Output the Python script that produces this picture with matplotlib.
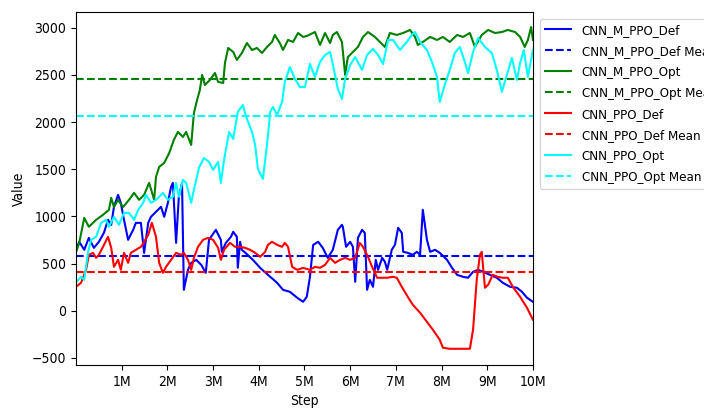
import matplotlib
matplotlib.use('Agg')
from matplotlib import pyplot as plt

# the reference text looks narrow, so ask for the condensed face if it exists
plt.rcParams['font.stretch'] = 'condensed'

# steps are in millions
m_ppo_def_steps = [0.00, 0.07, 0.18, 0.28, 0.39, 0.50, 0.61, 0.70, 0.77, 0.83, 0.92, 0.98, 1.05, 1.14,
                   1.25, 1.31, 1.42, 1.49, 1.58, 1.64, 1.75, 1.86, 1.93, 2.01, 2.08, 2.12, 2.19, 2.25,
                   2.32, 2.36, 2.45, 2.52, 2.63, 2.74, 2.84, 2.91, 3.06, 3.17, 3.19, 3.28, 3.39, 3.44,
                   3.52, 3.54, 3.59, 3.63, 3.74, 3.87, 4.03, 4.20, 4.40, 4.53, 4.68, 4.84, 4.97, 5.05,
                   5.12, 5.19, 5.30, 5.40, 5.51, 5.62, 5.73, 5.82, 5.84, 5.91, 6.00, 6.06, 6.11, 6.17,
                   6.26, 6.32, 6.37, 6.43, 6.50, 6.56, 6.61, 6.70, 6.76, 6.81, 6.91, 6.98, 7.05, 7.13,
                   7.16, 7.26, 7.37, 7.46, 7.53, 7.59, 7.68, 7.75, 7.86, 7.96, 8.12, 8.23, 8.34, 8.47,
                   8.58, 8.69, 8.80, 8.91, 9.06, 9.21, 9.34, 9.50, 9.65, 9.76, 9.87, 10.00]
m_ppo_def_vals = [646, 731, 646, 773, 667, 731, 826, 964, 911, 1102, 1229, 1144, 964, 752,
                  858, 932, 932, 614, 932, 996, 1049, 1102, 996, 1144, 1314, 1356, 720, 1208,
                  1356, 222, 434, 508, 540, 487, 402, 752, 858, 752, 625, 720, 784, 837,
                  784, 455, 731, 646, 600, 540, 455, 381, 297, 222, 201, 138, 95, 148,
                  360, 699, 731, 667, 561, 646, 858, 911, 890, 678, 731, 678, 307, 773,
                  858, 826, 222, 328, 254, 540, 434, 561, 519, 434, 646, 699, 879, 826,
                  625, 614, 593, 625, 593, 1070, 752, 625, 646, 614, 540, 455, 381, 360,
                  350, 413, 434, 413, 381, 350, 297, 254, 244, 201, 138, 95]

m_ppo_opt_steps = [0.00, 0.07, 0.18, 0.28, 0.44, 0.59, 0.72, 0.77, 0.83, 0.92, 1.03, 1.16, 1.27, 1.38,
                   1.49, 1.60, 1.71, 1.75, 1.82, 1.93, 2.04, 2.14, 2.23, 2.34, 2.41, 2.52, 2.58, 2.65,
                   2.71, 2.76, 2.82, 2.93, 3.04, 3.11, 3.22, 3.26, 3.33, 3.44, 3.52, 3.63, 3.74, 3.85,
                   3.96, 4.07, 4.18, 4.29, 4.35, 4.46, 4.53, 4.64, 4.75, 4.86, 4.97, 5.05, 5.23, 5.34,
                   5.45, 5.56, 5.62, 5.71, 5.82, 5.89, 5.95, 6.06, 6.17, 6.28, 6.39, 6.54, 6.65, 6.76,
                   6.87, 7.02, 7.16, 7.31, 7.42, 7.48, 7.59, 7.75, 7.90, 8.03, 8.18, 8.34, 8.47, 8.62,
                   8.73, 8.88, 9.02, 9.17, 9.32, 9.45, 9.61, 9.72, 9.82, 9.89, 9.96, 10.00]
m_ppo_opt_vals = [620, 720, 985, 890, 964, 1017, 1070, 1197, 1100, 1176, 1100, 1176, 1250, 1176,
                  1229, 1356, 1176, 1420, 1525, 1568, 1673, 1811, 1896, 1843, 1896, 1758, 2097, 2235,
                  2341, 2500, 2394, 2447, 2521, 2426, 2415, 2627, 2786, 2744, 2659, 2733, 2839, 2765,
                  2786, 2733, 2797, 2850, 2924, 2839, 2765, 2871, 2850, 2945, 2903, 2913, 2955, 2818,
                  2945, 2839, 2924, 2955, 2850, 2500, 2690, 2744, 2797, 2903, 2955, 2903, 2850, 2797,
                  2945, 2924, 2945, 2977, 2903, 2818, 2850, 2903, 2871, 2903, 2850, 2924, 2903, 2945,
                  2797, 2924, 2977, 2945, 2955, 2977, 2955, 2903, 2797, 2871, 3008, 2871]

ppo_def_steps = [0.00, 0.11, 0.22, 0.28, 0.37, 0.44, 0.50, 0.59, 0.70, 0.77, 0.83, 0.92, 0.98, 1.05,
                 1.14, 1.20, 1.31, 1.42, 1.49, 1.58, 1.66, 1.75, 1.82, 1.90, 1.97, 2.08, 2.19, 2.30,
                 2.36, 2.45, 2.52, 2.58, 2.67, 2.78, 2.89, 3.00, 3.11, 3.17, 3.24, 3.37, 3.48, 3.59,
                 3.70, 3.81, 3.92, 4.03, 4.14, 4.20, 4.29, 4.40, 4.51, 4.57, 4.64, 4.73, 4.84, 4.97,
                 5.12, 5.23, 5.34, 5.45, 5.56, 5.67, 5.78, 5.89, 6.00, 6.11, 6.21, 6.28, 6.39, 6.48,
                 6.59, 6.70, 6.81, 6.94, 7.02, 7.13, 7.26, 7.37, 7.53, 7.68, 7.81, 7.96, 8.03, 8.18,
                 8.40, 8.62, 8.69, 8.77, 8.84, 8.88, 8.95, 9.02, 9.12, 9.23, 9.34, 9.45, 9.56, 9.72,
                 9.87, 10.00]
ppo_def_vals = [254, 297, 434, 593, 614, 561, 593, 678, 784, 667, 466, 540, 434, 614,
                508, 614, 646, 678, 731, 805, 932, 784, 508, 402, 466, 540, 614, 593,
                614, 540, 434, 561, 678, 752, 773, 752, 667, 540, 646, 720, 678, 678,
                667, 646, 614, 572, 625, 699, 731, 699, 678, 720, 678, 466, 434, 455,
                434, 466, 455, 487, 561, 508, 540, 561, 540, 561, 720, 678, 572, 466,
                350, 350, 350, 360, 350, 254, 148, 64, -21, -117, -201, -307, -392, -403,
                -403, -403, -201, 328, 593, 625, 244, 275, 381, 360, 350, 350, 254, 148,
                32, -95]

ppo_opt_steps = [0.00, 0.11, 0.18, 0.26, 0.33, 0.44, 0.55, 0.66, 0.72, 0.83, 0.94, 1.05, 1.16, 1.27,
                 1.36, 1.47, 1.53, 1.64, 1.75, 1.82, 1.90, 2.01, 2.12, 2.19, 2.25, 2.34, 2.41, 2.52,
                 2.58, 2.69, 2.80, 2.91, 3.00, 3.11, 3.17, 3.24, 3.35, 3.44, 3.54, 3.65, 3.74, 3.85,
                 3.92, 3.98, 4.09, 4.18, 4.25, 4.31, 4.40, 4.51, 4.57, 4.68, 4.79, 4.90, 5.01, 5.12,
                 5.23, 5.34, 5.45, 5.56, 5.62, 5.73, 5.82, 5.89, 6.00, 6.11, 6.26, 6.37, 6.50, 6.61,
                 6.72, 6.83, 6.94, 7.09, 7.24, 7.35, 7.42, 7.53, 7.68, 7.79, 7.90, 7.96, 8.07, 8.18,
                 8.29, 8.40, 8.51, 8.58, 8.69, 8.80, 8.95, 9.10, 9.21, 9.32, 9.43, 9.54, 9.65, 9.72,
                 9.80, 9.89, 10.00]
ppo_opt_vals = [300, 360, 328, 614, 752, 784, 932, 964, 890, 996, 911, 1038, 1038, 964,
                1070, 1144, 1229, 1144, 1176, 1208, 1250, 1176, 1208, 1356, 1208, 1388, 1356, 1144,
                1282, 1515, 1620, 1578, 1494, 1578, 1356, 1600, 1896, 1822, 2108, 2182, 2034, 1896,
                1758, 1504, 1398, 1758, 2108, 2161, 2076, 2214, 2426, 2585, 2458, 2373, 2373, 2616,
                2479, 2638, 2712, 2744, 2616, 2352, 2246, 2458, 2606, 2690, 2553, 2712, 2776, 2712,
                2616, 2871, 2871, 2765, 2850, 2924, 2955, 2850, 2765, 2638, 2479, 2214, 2394, 2553,
                2733, 2797, 2638, 2521, 2744, 2892, 2797, 2733, 2553, 2320, 2500, 2680, 2447, 2627,
                2765, 2479, 2765]

# horizontal mean lines
m_ppo_def_mean = 583
m_ppo_opt_mean = 2460
ppo_def_mean = 413
ppo_opt_mean = 2066

tick_steps = [1, 2, 3, 4, 5, 6, 7, 8, 9, 10]
tick_labels = ['1M', '2M', '3M', '4M', '5M', '6M', '7M', '8M', '9M', '10M']

series = [
    ('CNN_M_PPO_Def', m_ppo_def_steps, m_ppo_def_vals, m_ppo_def_mean, 'blue'),
    ('CNN_M_PPO_Opt', m_ppo_opt_steps, m_ppo_opt_vals, m_ppo_opt_mean, 'green'),
    ('CNN_PPO_Def', ppo_def_steps, ppo_def_vals, ppo_def_mean, 'red'),
    ('CNN_PPO_Opt', ppo_opt_steps, ppo_opt_vals, ppo_opt_mean, 'cyan'),
]

fig = plt.figure(figsize=(7.04, 4.16), dpi=100)
ax = fig.add_axes([0.108, 0.1226, 0.649, 0.848])

for name, steps, vals, mean, color in series:
    ax.plot([s * 1e6 for s in steps], vals, color=color, linewidth=1.5, label=name)
    ax.axhline(mean, color=color, linestyle='--', linewidth=1.5, label=name + ' Mean')

ax.set_xlim(0, 10e6)
ax.set_ylim(-575, 3165)
ax.set_xticks([t * 1e6 for t in tick_steps])
ax.set_xticklabels(tick_labels)
ax.set_yticks([-500, 0, 500, 1000, 1500, 2000, 2500, 3000])
ax.set_xlabel('Step')
ax.set_ylabel('Value')
ax.legend(loc='upper left', bbox_to_anchor=(1.0, 1.0), fontsize=9.5, labelspacing=0.6)

fig.savefig('out.png', dpi=100)
